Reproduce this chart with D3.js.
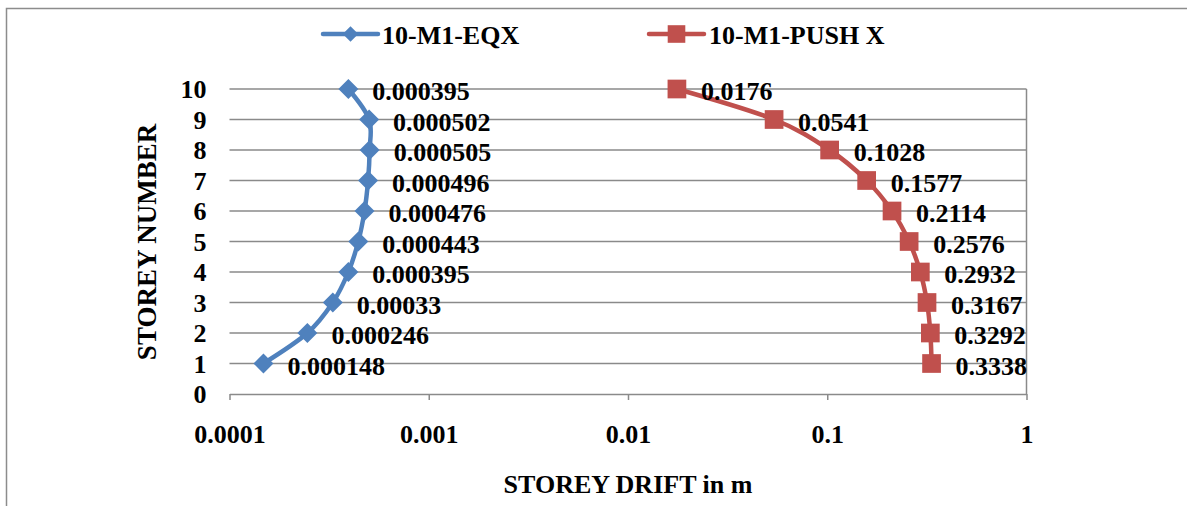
<!DOCTYPE html>
<html>
<head>
<meta charset="utf-8">
<script src="https://cdn.jsdelivr.net/npm/d3@7"></script>
<style>
  body { margin: 0; background: #fff; }
  svg text { font-family: "Liberation Serif", "Times New Roman", serif; font-weight: bold; fill: #000; }
</style>
</head>
<body>
<div id="chart"></div>
<script>
// storey numbers and drift values (m)
var storeys = [1, 2, 3, 4, 5, 6, 7, 8, 9, 10];
var eqxDrift = [0.000148, 0.000246, 0.00033, 0.000395, 0.000443, 0.000476, 0.000496, 0.000505, 0.000502, 0.000395];
var pushDrift = [0.3338, 0.3292, 0.3167, 0.2932, 0.2576, 0.2114, 0.1577, 0.1028, 0.0541, 0.0176];
var seriesNames = ['10-M1-EQX', '10-M1-PUSH X'];
var xTickValues = [0.0001, 0.001, 0.01, 0.1, 1];
var xTickLabels = ['0.0001', '0.001', '0.01', '0.1', '1'];
var yTickValues = [0, 1, 2, 3, 4, 5, 6, 7, 8, 9, 10];

var WIDTH = 1187;
var HEIGHT = 506;
var PLOT = { left: 229.5, right: 1026.5, top: 89, bottom: 394 };
var FONT_SIZE = 26;
var GRID_COLOR = '#8a8a8a';
var BLUE = '#4f81bd';
var RED = '#c0504d';

var svg = d3.select('#chart').append('svg')
    .attr('width', WIDTH)
    .attr('height', HEIGHT);

// outer chart border (runs off the page on the right and bottom)
svg.append('rect')
    .attr('x', 6.5).attr('y', 8.5)
    .attr('width', 1300).attr('height', 700)
    .attr('fill', 'none')
    .attr('stroke', '#8c8c8c')
    .attr('stroke-width', 1.5);

var x = d3.scaleLog().domain([0.0001, 1]).range([PLOT.left, PLOT.right]);
var y = d3.scaleLinear().domain([0, 10]).range([PLOT.bottom, PLOT.top]);

// horizontal gridlines
svg.append('g')
    .selectAll('line')
    .data(yTickValues.filter(function (d) { return d > 0; }))
    .enter().append('line')
    .attr('x1', PLOT.left).attr('x2', PLOT.right)
    .attr('y1', function (d) { return y(d); })
    .attr('y2', function (d) { return y(d); })
    .attr('stroke', GRID_COLOR)
    .attr('stroke-width', 1.5);

// right-hand vertical line
svg.append('line')
    .attr('x1', PLOT.right).attr('x2', PLOT.right)
    .attr('y1', y(10)).attr('y2', y(0))
    .attr('stroke', GRID_COLOR)
    .attr('stroke-width', 1.5);

// x axis
var xAxis = svg.append('g')
    .attr('transform', 'translate(0,' + PLOT.bottom + ')')
    .call(d3.axisBottom(x)
        .tickValues(xTickValues)
        .tickSize(6)
        .tickSizeOuter(0)
        .tickFormat(function (d, i) { return xTickLabels[i]; }));
xAxis.select('.domain').attr('stroke', GRID_COLOR).attr('stroke-width', 1.5);
xAxis.selectAll('.tick line').attr('stroke', GRID_COLOR).attr('stroke-width', 1.5);
xAxis.selectAll('.tick text')
    .attr('y', 49).attr('dy', 0)
    .style('font-size', FONT_SIZE + 'px');

// y axis labels only
var yAxis = svg.append('g')
    .attr('transform', 'translate(' + PLOT.left + ',0)')
    .call(d3.axisLeft(y).tickValues(yTickValues).tickSize(0).tickPadding(23));
yAxis.select('.domain').remove();
yAxis.selectAll('.tick text')
    .attr('dy', '0.34em')
    .style('font-size', FONT_SIZE + 'px');

// axis titles
svg.append('text')
    .attr('x', (PLOT.left + PLOT.right) / 2)
    .attr('y', 493)
    .attr('text-anchor', 'middle')
    .style('font-size', FONT_SIZE + 'px')
    .text('STOREY DRIFT in m');

svg.append('text')
    .attr('transform', 'translate(156,242) rotate(-90)')
    .attr('text-anchor', 'middle')
    .style('font-size', '27px')
    .text('STOREY NUMBER');

// diamond = square turned 45 degrees
var series = [
    { name: seriesNames[0], values: eqxDrift, color: BLUE, rot: 45, size: 200 },
    { name: seriesNames[1], values: pushDrift, color: RED, rot: 0, size: 350 }
];

var line = d3.line()
    .x(function (d) { return x(d.v); })
    .y(function (d) { return y(d.s); })
    .curve(d3.curveCardinal.tension(0));

series.forEach(function (s) {
    var pts = storeys.map(function (st, i) { return { s: st, v: s.values[i] }; });
    var g = svg.append('g');
    g.append('path')
        .datum(pts)
        .attr('d', line)
        .attr('fill', 'none')
        .attr('stroke', s.color)
        .attr('stroke-width', 4.5);
    g.selectAll('path.marker')
        .data(pts)
        .enter().append('path')
        .attr('class', 'marker')
        .attr('d', d3.symbol().type(d3.symbolSquare).size(s.size))
        .attr('transform', function (d) {
            return 'translate(' + x(d.v) + ',' + y(d.s) + ') rotate(' + s.rot + ')';
        })
        .attr('fill', s.color);
    g.selectAll('text')
        .data(pts)
        .enter().append('text')
        .attr('x', function (d) { return x(d.v) + 24; })
        .attr('y', function (d) { return y(d.s) + 11; })
        .style('font-size', FONT_SIZE + 'px')
        .text(function (d) { return String(d.v); });
});

// legend
var legendItems = [
    { name: seriesNames[0], color: BLUE, rot: 45, size: 120, x0: 323, x1: 378, tx: 382 },
    { name: seriesNames[1], color: RED, rot: 0, size: 310, x0: 649, x1: 704, tx: 709 }
];
var legend = svg.append('g').selectAll('g')
    .data(legendItems)
    .enter().append('g');
legend.append('line')
    .attr('x1', function (d) { return d.x0; })
    .attr('x2', function (d) { return d.x1; })
    .attr('y1', 34).attr('y2', 34)
    .attr('stroke', function (d) { return d.color; })
    .attr('stroke-width', 4.5)
    .attr('stroke-linecap', 'round');
legend.append('path')
    .attr('d', function (d) { return d3.symbol().type(d3.symbolSquare).size(d.size)(); })
    .attr('transform', function (d) {
        return 'translate(' + ((d.x0 + d.x1) / 2) + ',34) rotate(' + d.rot + ')';
    })
    .attr('fill', function (d) { return d.color; });
legend.append('text')
    .attr('x', function (d) { return d.tx; })
    .attr('y', 44)
    .style('font-size', FONT_SIZE + 'px')
    .text(function (d) { return d.name; });
</script>
</body>
</html>
